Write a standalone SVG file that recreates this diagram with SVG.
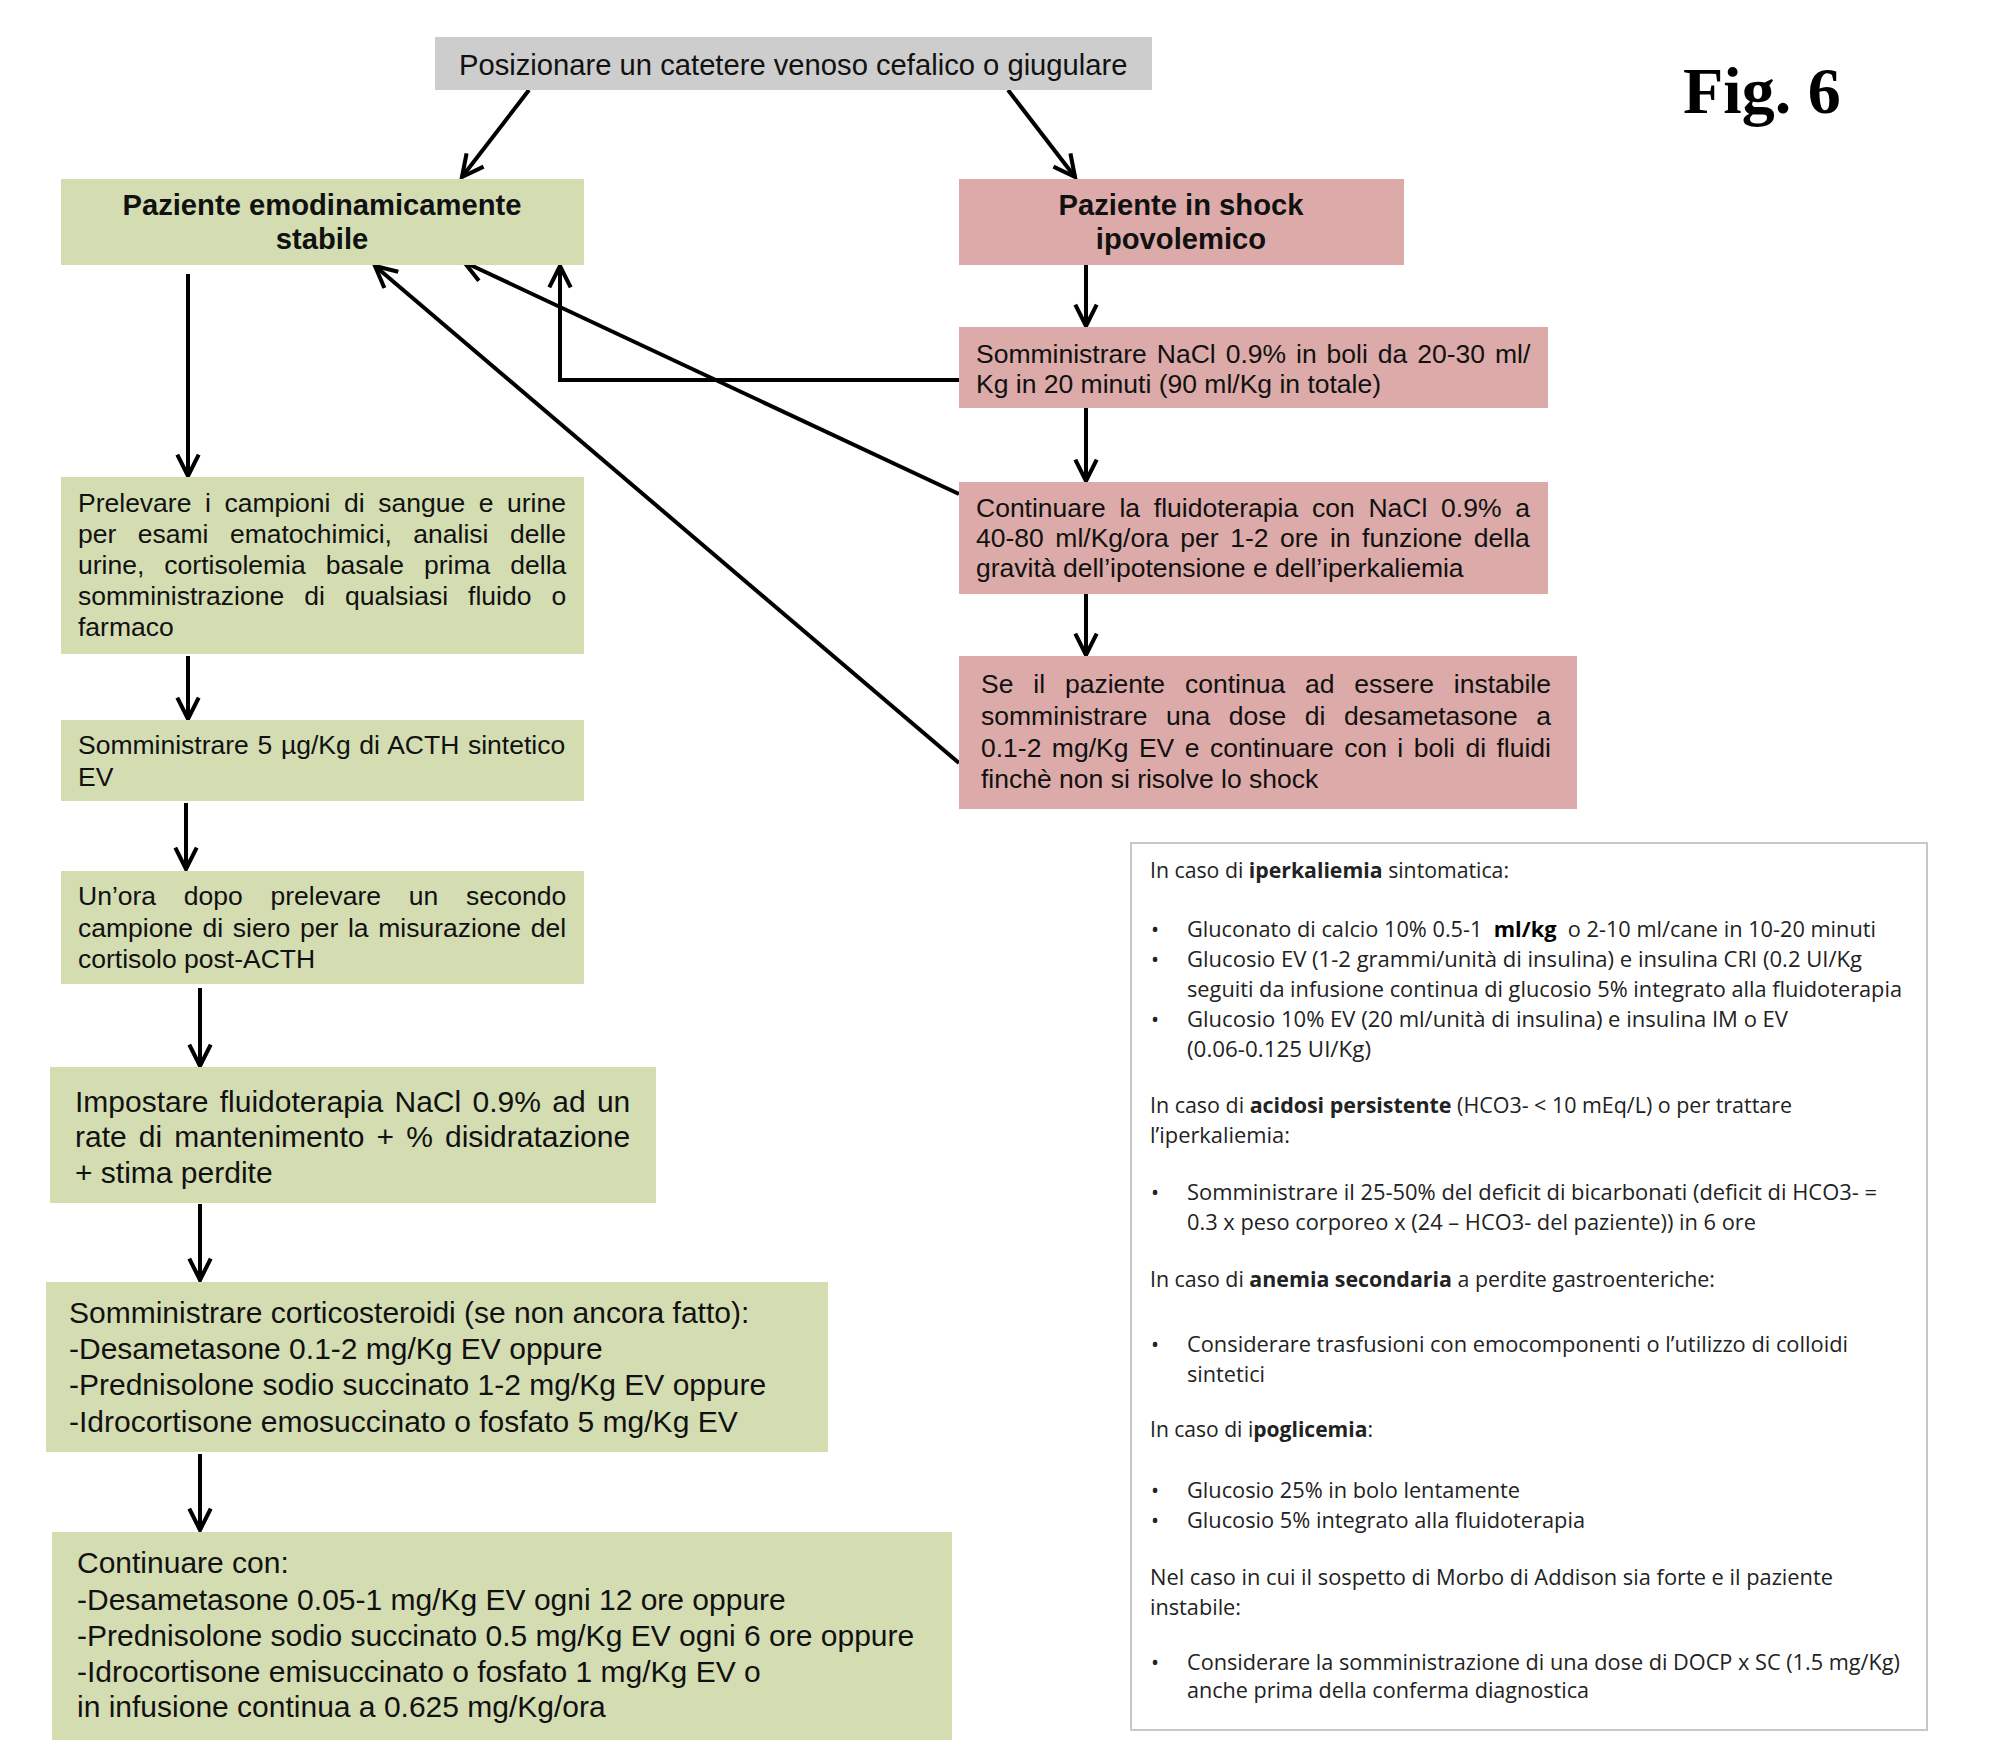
<svg xmlns="http://www.w3.org/2000/svg" width="1992" height="1762" viewBox="0 0 1992 1762">
<defs>
<style>
.g{fill:#d4ddb2}
.r{fill:#dcaaa8}
.gr{fill:#cdcdcd}
.t{font-family:"Liberation Sans",Arial,sans-serif;font-size:26.5px;fill:#111}
.tl{font-family:"Liberation Sans",Arial,sans-serif;font-size:30px;fill:#111}
.hd{font-family:"Liberation Sans",Arial,sans-serif;font-size:29.2px;font-weight:bold;fill:#111}
.inf{font-family:"Open Sans","Liberation Sans",sans-serif;font-size:21.5px;fill:#222}
.bo{font-weight:bold}
.ln{stroke:#000;stroke-width:4;fill:none}
</style>
<marker id="ah" markerUnits="userSpaceOnUse" markerWidth="30" markerHeight="30" viewBox="-24 -13 28 26" refX="0" refY="0" orient="auto">
<path d="M-20,-10 L0,0 L-20,10" fill="none" stroke="#000" stroke-width="3.8"/>
</marker>
</defs>
<rect width="1992" height="1762" fill="#fff"/>

<g id="connectors">
<line class="ln" x1="529" y1="90" x2="462" y2="177" marker-end="url(#ah)"/>
<line class="ln" x1="1008" y1="90" x2="1075" y2="177" marker-end="url(#ah)"/>
<line class="ln" x1="188" y1="274" x2="188" y2="476" marker-end="url(#ah)"/>
<line class="ln" x1="188" y1="656" x2="188" y2="719" marker-end="url(#ah)"/>
<line class="ln" x1="186" y1="803" x2="186" y2="869" marker-end="url(#ah)"/>
<line class="ln" x1="200" y1="988" x2="200" y2="1066" marker-end="url(#ah)"/>
<line class="ln" x1="200" y1="1204" x2="200" y2="1280" marker-end="url(#ah)"/>
<line class="ln" x1="200" y1="1454" x2="200" y2="1530" marker-end="url(#ah)"/>
<line class="ln" x1="1086" y1="265" x2="1086" y2="326" marker-end="url(#ah)"/>
<line class="ln" x1="1086" y1="408" x2="1086" y2="481" marker-end="url(#ah)"/>
<line class="ln" x1="1086" y1="594" x2="1086" y2="655" marker-end="url(#ah)"/>
<polyline class="ln" points="959,380 560,380 560,266" marker-end="url(#ah)"/>
<line class="ln" x1="959" y1="494" x2="464" y2="262" marker-end="url(#ah)"/>
<line class="ln" x1="959" y1="763" x2="375" y2="266" marker-end="url(#ah)"/>
</g>

<g id="n-catetere">
<rect class="gr" x="435" y="37" width="717" height="53"/>
<text class="t" style="font-size:29.2px" x="459" y="75">Posizionare un catetere venoso cefalico o giugulare</text>
</g>

<g id="fig-label">
<text x="1683" y="113" style="font-family:'Liberation Serif','Times New Roman',serif;font-size:66px;font-weight:bold;fill:#000">Fig. 6</text>
</g>

<g id="n-stabile">
<rect class="g" x="61" y="179" width="523" height="86"/>
<text class="hd" x="322" y="215" text-anchor="middle">Paziente emodinamicamente</text>
<text class="hd" x="322" y="249" text-anchor="middle">stabile</text>
</g>

<g id="n-shock">
<rect class="r" x="959" y="179" width="445" height="86"/>
<text class="hd" x="1181" y="215" text-anchor="middle">Paziente in shock</text>
<text class="hd" x="1181" y="249" text-anchor="middle">ipovolemico</text>
</g>

<g id="n-prelevare">
<rect class="g" x="61" y="477" width="523" height="177"/>
<text class="t" x="78" y="512" word-spacing="6.2">Prelevare i campioni di sangue e urine</text>
<text class="t" x="78" y="543" word-spacing="14.1">per esami ematochimici, analisi delle</text>
<text class="t" x="78" y="574" word-spacing="12.7">urine, cortisolemia basale prima della</text>
<text class="t" x="78" y="605" word-spacing="12.7">somministrazione di qualsiasi fluido o</text>
<text class="t" x="78" y="636">farmaco</text>
</g>

<g id="n-acth">
<rect class="g" x="61" y="720" width="523" height="81"/>
<text class="t" x="78" y="754" word-spacing="1.3">Somministrare 5 µg/Kg di ACTH sintetico</text>
<text class="t" x="78" y="786">EV</text>
</g>

<g id="n-unora">
<rect class="g" x="61" y="871" width="523" height="113"/>
<text class="t" x="78" y="905" word-spacing="20.4">Un’ora dopo prelevare un secondo</text>
<text class="t" x="78" y="937" word-spacing="2.3">campione di siero per la misurazione del</text>
<text class="t" x="78" y="968">cortisolo post-ACTH</text>
</g>

<g id="n-impostare">
<rect class="g" x="50" y="1067" width="606" height="136"/>
<text class="tl" x="75" y="1112" word-spacing="3">Impostare fluidoterapia NaCl 0.9% ad un</text>
<text class="tl" x="75" y="1147" word-spacing="3.8">rate di mantenimento + % disidratazione</text>
<text class="tl" x="75" y="1183">+ stima perdite</text>
</g>

<g id="n-cortico">
<rect class="g" x="46" y="1282" width="782" height="170"/>
<text class="tl" x="69" y="1323">Somministrare corticosteroidi (se non ancora fatto):</text>
<text class="tl" x="69" y="1359">-Desametasone 0.1-2 mg/Kg EV oppure</text>
<text class="tl" x="69" y="1395">-Prednisolone sodio succinato 1-2 mg/Kg EV oppure</text>
<text class="tl" x="69" y="1432">-Idrocortisone emosuccinato o fosfato 5 mg/Kg EV</text>
</g>

<g id="n-continuare">
<rect class="g" x="52" y="1532" width="900" height="208"/>
<text class="tl" x="77" y="1573">Continuare con:</text>
<text class="tl" x="77" y="1610">-Desametasone 0.05-1 mg/Kg EV ogni 12 ore oppure</text>
<text class="tl" x="77" y="1646">-Prednisolone sodio succinato 0.5 mg/Kg EV ogni 6 ore oppure</text>
<text class="tl" x="77" y="1682">-Idrocortisone emisuccinato o fosfato 1 mg/Kg EV o</text>
<text class="tl" x="77" y="1717">in infusione continua a 0.625 mg/Kg/ora</text>
</g>

<g id="n-nacl">
<rect class="r" x="959" y="327" width="589" height="81"/>
<text class="t" x="976" y="363" word-spacing="2.6">Somministrare NaCl 0.9% in boli da 20-30 ml/</text>
<text class="t" x="976" y="393">Kg in 20 minuti (90 ml/Kg in totale)</text>
</g>

<g id="n-fluido">
<rect class="r" x="959" y="482" width="589" height="112"/>
<text class="t" x="976" y="517" word-spacing="6.4">Continuare la fluidoterapia con NaCl 0.9% a</text>
<text class="t" x="976" y="547" word-spacing="4.2">40-80 ml/Kg/ora per 1-2 ore in funzione della</text>
<text class="t" x="976" y="577">gravità dell’ipotensione e dell’iperkaliemia</text>
</g>

<g id="n-instabile">
<rect class="r" x="959" y="656" width="618" height="153"/>
<text class="t" x="981" y="693" word-spacing="12.5">Se il paziente continua ad essere instabile</text>
<text class="t" x="981" y="725" word-spacing="11.2">somministrare una dose di desametasone a</text>
<text class="t" x="981" y="757" word-spacing="3.1">0.1-2 mg/Kg EV e continuare con i boli di fluidi</text>
<text class="t" x="981" y="788">finchè non si risolve lo shock</text>
</g>

<g id="n-info">
<rect x="1131" y="843" width="796" height="887" fill="#fff" stroke="#c8c8c8" stroke-width="2"/>
<text class="inf" x="1150" y="878" textLength="359" lengthAdjust="spacingAndGlyphs">In caso di <tspan class="bo">iperkaliemia</tspan> sintomatica:</text>
<text class="inf" x="1151" y="937">•</text>
<text class="inf" x="1187" y="937" textLength="689" lengthAdjust="spacingAndGlyphs" xml:space="preserve">Gluconato di calcio 10% 0.5-1  <tspan class="bo" style="fill:#000">ml/kg</tspan>  o 2-10 ml/cane in 10-20 minuti</text>
<text class="inf" x="1151" y="967">•</text>
<text class="inf" x="1187" y="967" textLength="675" lengthAdjust="spacingAndGlyphs">Glucosio EV (1-2 grammi/unità di insulina) e insulina CRI (0.2 UI/Kg</text>
<text class="inf" x="1187" y="997" textLength="715" lengthAdjust="spacingAndGlyphs">seguiti da infusione continua di glucosio 5% integrato alla fluidoterapia</text>
<text class="inf" x="1151" y="1027">•</text>
<text class="inf" x="1187" y="1027" textLength="601" lengthAdjust="spacingAndGlyphs">Glucosio 10% EV (20 ml/unità di insulina) e insulina IM o EV</text>
<text class="inf" x="1187" y="1057" textLength="184" lengthAdjust="spacingAndGlyphs">(0.06-0.125 UI/Kg)</text>
<text class="inf" x="1150" y="1113" textLength="642" lengthAdjust="spacingAndGlyphs">In caso di <tspan class="bo">acidosi persistente</tspan> (HCO3- &lt; 10 mEq/L) o per trattare</text>
<text class="inf" x="1150" y="1143" textLength="140" lengthAdjust="spacingAndGlyphs">l’iperkaliemia:</text>
<text class="inf" x="1151" y="1200">•</text>
<text class="inf" x="1187" y="1200" textLength="690" lengthAdjust="spacingAndGlyphs">Somministrare il 25-50% del deficit di bicarbonati (deficit di HCO3- =</text>
<text class="inf" x="1187" y="1230" textLength="569" lengthAdjust="spacingAndGlyphs">0.3 x peso corporeo x (24 – HCO3- del paziente)) in 6 ore</text>
<text class="inf" x="1150" y="1287" textLength="565" lengthAdjust="spacingAndGlyphs">In caso di <tspan class="bo">anemia secondaria</tspan> a perdite gastroenteriche:</text>
<text class="inf" x="1151" y="1352">•</text>
<text class="inf" x="1187" y="1352" textLength="661" lengthAdjust="spacingAndGlyphs">Considerare trasfusioni con emocomponenti o l’utilizzo di colloidi</text>
<text class="inf" x="1187" y="1382" textLength="78" lengthAdjust="spacingAndGlyphs">sintetici</text>
<text class="inf" x="1150" y="1437" textLength="223" lengthAdjust="spacingAndGlyphs">In caso di i<tspan class="bo">poglicemia</tspan>:</text>
<text class="inf" x="1151" y="1498">•</text>
<text class="inf" x="1187" y="1498" textLength="333" lengthAdjust="spacingAndGlyphs">Glucosio 25% in bolo lentamente</text>
<text class="inf" x="1151" y="1528">•</text>
<text class="inf" x="1187" y="1528" textLength="398" lengthAdjust="spacingAndGlyphs">Glucosio 5% integrato alla fluidoterapia</text>
<text class="inf" x="1150" y="1585" textLength="683" lengthAdjust="spacingAndGlyphs">Nel caso in cui il sospetto di Morbo di Addison sia forte e il paziente</text>
<text class="inf" x="1150" y="1615" textLength="91" lengthAdjust="spacingAndGlyphs">instabile:</text>
<text class="inf" x="1151" y="1670">•</text>
<text class="inf" x="1187" y="1670" textLength="713" lengthAdjust="spacingAndGlyphs">Considerare la somministrazione di una dose di DOCP x SC (1.5 mg/Kg)</text>
<text class="inf" x="1187" y="1698" textLength="402" lengthAdjust="spacingAndGlyphs">anche prima della conferma diagnostica</text>
</g>
</svg>
